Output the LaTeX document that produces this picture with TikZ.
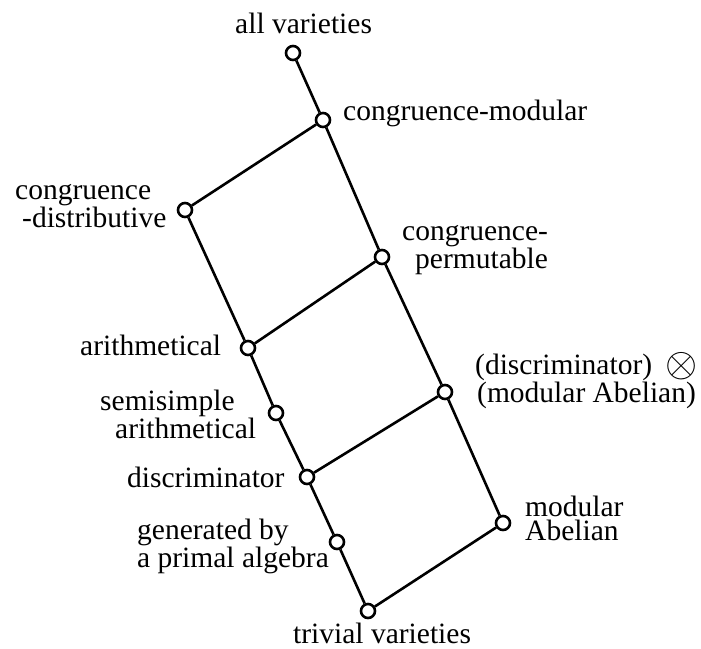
\RequirePackage{fix-cm}
\documentclass[tikz,border=0pt]{standalone}
\usepackage{fontspec}
\setmainfont{Liberation Serif}
\begin{document}
\begin{tikzpicture}[x=1pt, y=-1pt]
        \tikzstyle{vertex}=[draw, circle, fill=white, line width=2.6pt, minimum size=14pt, inner sep=0pt]
        \tikzstyle{lab}=[inner sep=0pt, font=\fontsize{29.5}{24}\selectfont, align=left]
        \tikzstyle{edge}=[line width=2.6pt]
        \useasboundingbox (0,0) rectangle (701,648);

        % lattice of varieties
        \node[vertex] (all) at (293,53) {};
        \node[vertex] (cmod) at (323,120) {};
        \node[vertex] (cdist) at (185,210) {};
        \node[vertex] (cperm) at (382,257) {};
        \node[vertex] (arith) at (248,348) {};
        \node[vertex] (discmod) at (445,392) {};
        \node[vertex] (ssarith) at (276,413) {};
        \node[vertex] (disc) at (307,477) {};
        \node[vertex] (primal) at (337,542) {};
        \node[vertex] (modab) at (503,523) {};
        \node[vertex] (trivial) at (368,611) {};

        % labels (base anchor = last line)
        \node[lab, anchor=base west] (lall) at (235,33) {all varieties};
        \node[lab, anchor=base west] (lcmod) at (343,120) {congruence-modular};
        \node[lab, anchor=base west] (lcdist) at (15,227) {congruence\\\hspace{7pt}-distributive};
        \node[lab, anchor=base west] (lcperm) at (402,268) {congruence-\\\hspace{13pt}permutable};
        \node[lab, anchor=base west] (larith) at (80,355) {arithmetical};
        \node[lab, anchor=base west] (ldiscmod) at (475,402) {(discriminator)\hspace{13pt}\raisebox{-2pt}{\scalebox{1.4}{$\otimes$}}\\\hspace{2pt}(modular Abelian)};
        \node[lab, anchor=base west] (lssarith) at (100,438) {semisimple\\\hspace{15pt}arithmetical};
        \node[lab, anchor=base west] (ldisc) at (127,487) {discriminator};
        \node[lab, anchor=base west] (lprimal) at (137,567) {generated by\\a primal algebra};
        \node[lab, anchor=base west] (lmodab) at (525,540) {modular\\Abelian};
        \node[lab, anchor=base west] (ltrivial) at (293,643) {trivial varieties};

        \draw[edge] (all) -- (cmod);
        \draw[edge] (cmod) -- (cdist);
        \draw[edge] (cmod) -- (cperm);
        \draw[edge] (cdist) -- (arith);
        \draw[edge] (cperm) -- (arith);
        \draw[edge] (cperm) -- (discmod);
        \draw[edge] (arith) -- (ssarith);
        \draw[edge] (ssarith) -- (disc);
        \draw[edge] (discmod) -- (disc);
        \draw[edge] (discmod) -- (modab);
        \draw[edge] (disc) -- (primal);
        \draw[edge] (primal) -- (trivial);
        \draw[edge] (modab) -- (trivial);
    \end{tikzpicture}
\end{document}
